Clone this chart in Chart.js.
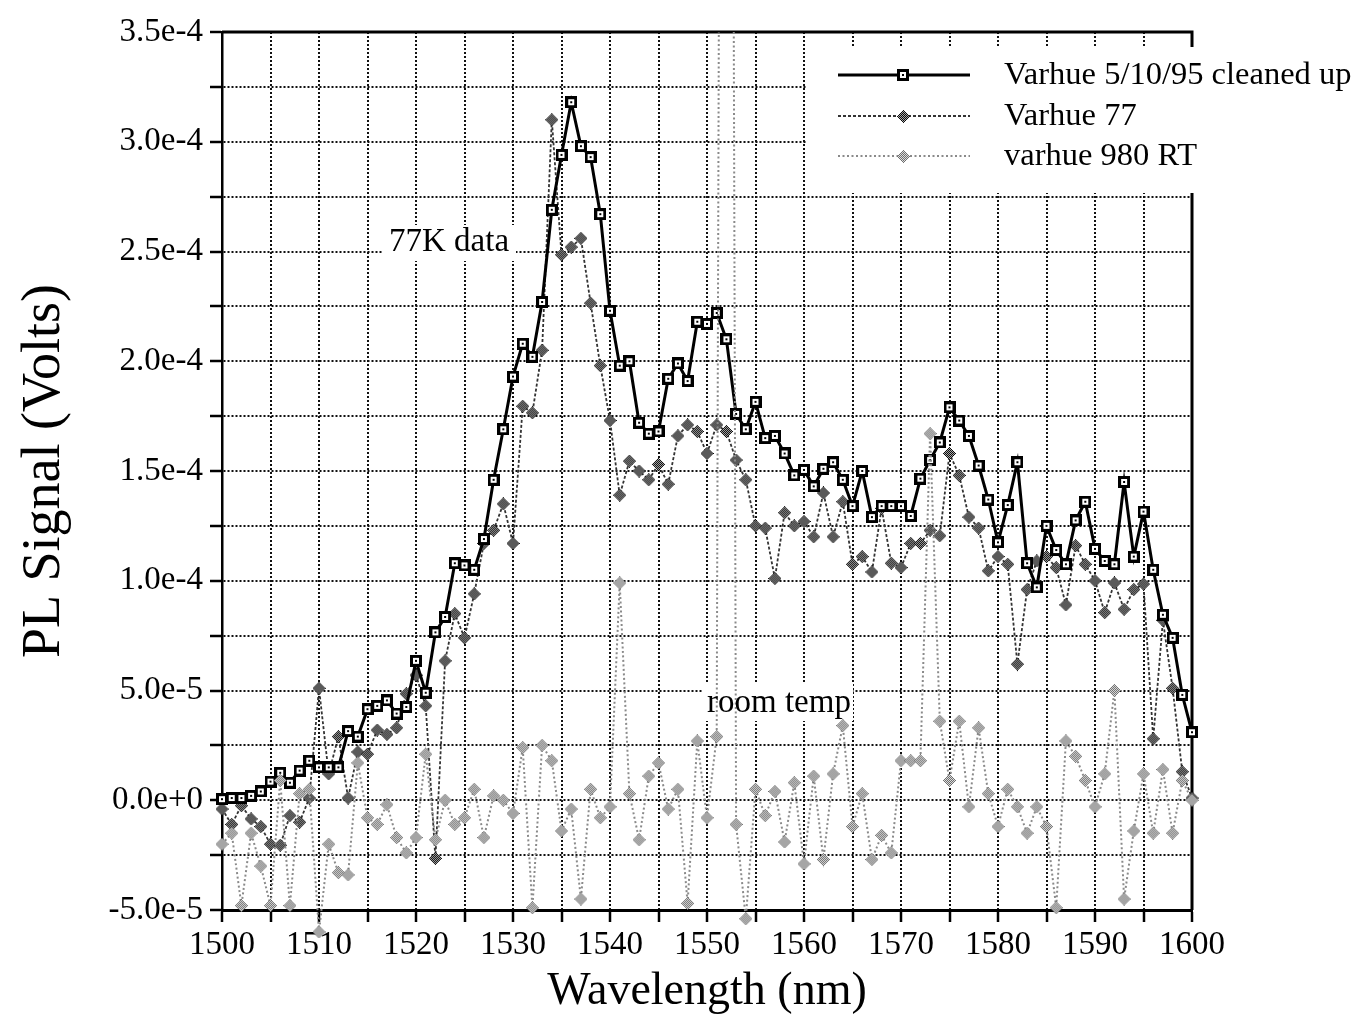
<!DOCTYPE html>
<html>
<head>
<meta charset="utf-8">
<title>PL Signal</title>
<script src="https://cdn.jsdelivr.net/npm/chart.js@4.4.1/dist/chart.umd.min.js"></script>
<style>
  html, body { margin: 0; padding: 0; background: #fff; }
  #plot { display: block; }
</style>
</head>
<body>
<canvas id="plot" width="1356" height="1017"></canvas>
<script>
// scan wavelengths (nm)
var wavelength = [
  1500, 1501, 1502, 1503, 1504, 1505, 1506, 1507, 1508, 1509,
  1510, 1511, 1512, 1513, 1514, 1515, 1516, 1517, 1518, 1519,
  1520, 1521, 1522, 1523, 1524, 1525, 1526, 1527, 1528, 1529,
  1530, 1531, 1532, 1533, 1534, 1535, 1536, 1537, 1538, 1539,
  1540, 1541, 1542, 1543, 1544, 1545, 1546, 1547, 1548, 1549,
  1550, 1551, 1552, 1553, 1554, 1555, 1556, 1557, 1558, 1559,
  1560, 1561, 1562, 1563, 1564, 1565, 1566, 1567, 1568, 1569,
  1570, 1571, 1572, 1573, 1574, 1575, 1576, 1577, 1578, 1579,
  1580, 1581, 1582, 1583, 1584, 1585, 1586, 1587, 1588, 1589,
  1590, 1591, 1592, 1593, 1594, 1595, 1596, 1597, 1598, 1599,
  1600
];

// PL signal, in units of 1e-5 V
var cleanedUp = [
  0.05, 0.1, 0.1, 0.2, 0.4, 0.85, 1.25, 0.8, 1.35, 1.8,
  1.5, 1.5, 1.5, 3.15, 2.9, 4.15, 4.3, 4.55, 3.95, 4.25,
  6.35, 4.9, 7.65, 8.35, 10.8, 10.7, 10.5, 11.9, 14.6, 16.9,
  19.3, 20.8, 20.2, 22.7, 26.9, 29.4, 31.8, 29.8, 29.3, 26.7,
  22.3, 19.8, 20.0, 17.2, 16.7, 16.8, 19.2, 19.9, 19.1, 21.8,
  21.7, 22.2, 21.0, 17.6, 16.9, 18.15, 16.5, 16.6, 15.8, 14.8,
  15.05, 14.3, 15.1, 15.4, 14.6, 13.4, 15.0, 12.9, 13.4, 13.4,
  13.4, 12.95, 14.65, 15.5, 16.3, 17.9, 17.3, 16.6, 15.25, 13.7,
  11.75, 13.45, 15.4, 10.8, 9.7, 12.5, 11.4, 10.75, 12.75, 13.6,
  11.45, 10.9, 10.75, 14.5, 11.1, 13.15, 10.5, 8.45, 7.4, 4.8,
  3.1
];

var varhue77 = [
  -0.4, -1.1, -0.25, -0.85, -1.2, -2.0, -2.05, -0.7, -1.0, 0.1,
  5.1, 1.2, 2.9, 0.1, 2.2, 2.1, 3.2, 3.0, 3.3, 4.85,
  5.7, 4.3, -2.65, 6.35, 8.5, 7.4, 9.4, 11.7, 12.3, 13.5,
  11.7, 17.95, 17.65, 20.5, 31.0, 24.85, 25.2, 25.6, 22.65, 19.8,
  17.3, 13.9, 15.45, 15.0, 14.6, 15.3, 14.4, 16.6, 17.1, 16.8,
  15.8, 17.1, 16.8, 15.5, 14.6, 12.5, 12.4, 10.1, 13.1, 12.5,
  12.7, 12.0, 14.0, 12.0, 13.6, 10.75, 11.1, 10.4, 13.3, 10.8,
  10.6, 11.7, 11.7, 12.3, 12.05, 15.8, 14.8, 12.9, 12.4, 10.45,
  11.1, 10.75, 6.2, 9.6, 10.9, 11.1, 10.6, 8.9, 11.6, 10.75,
  10.0, 8.55, 9.9, 8.7, 9.6, 9.85, 2.8, 8.2, 5.1, 1.3,
  0.1
];

var varhue980RT = [
  -2.0, -1.5, -4.8, -1.5, -3.0, -4.8, 0.9, -4.8, 0.3, 0.5,
  -6.0, -2.0, -3.3, -3.4, 1.7, -0.8, -1.1, -0.2, -1.7, -2.4,
  -1.7, 2.1, -1.8, 0.0, -1.1, -0.8, 0.5, -1.7, 0.2, 0.0,
  -0.6, 2.4, -4.9, 2.5, 1.8, -1.4, -0.4, -4.5, 0.5, -0.8,
  -0.3, 9.9, 0.3, -1.8, 1.1, 1.7, -0.4, 0.5, -4.7, 2.7,
  -0.8, 2.9, 150, -1.1, -5.4, 0.5, -0.7, 0.4, -1.9, 0.8,
  -2.9, 1.1, -2.7, 1.2, 3.4, -1.2, 0.3, -2.7, -1.6, -2.4,
  1.8, 1.8, 1.8, 16.7, 3.6, 0.9, 3.6, -0.3, 3.3, 0.3,
  -1.2, 0.5, -0.3, -1.5, -0.3, -1.2, -4.9, 2.7, 2.0, 0.9,
  -0.3, 1.2, 5.0, -4.5, -1.4, 1.2, -1.5, 1.4, -1.5, 0.9,
  0.0
];

var seriesNames = ['Varhue 5/10/95 cleaned up', 'Varhue 77', 'varhue 980 RT'];

var serif = '"Liberation Serif", "Times New Roman", Times, serif';

// little bitmap markers, the way the old plotting program drew them
function squareMarker() {
    var c = document.createElement('canvas');
    c.width = 12; c.height = 12;
    var g = c.getContext('2d');
    g.fillStyle = '#000';
    g.fillRect(0, 0, 12, 12);
    g.fillStyle = '#fff';
    g.fillRect(3, 3, 6, 6);
    g.fillStyle = '#000';
    g.fillRect(5, 5, 2, 2);
    return c;
}

function diamondMarker(dark, light) {
    var n = 13, mid = 6;
    var c = document.createElement('canvas');
    c.width = n; c.height = n;
    var g = c.getContext('2d');
    for (var i = 0; i < n; i++) {
        for (var j = 0; j < n; j++) {
            if (Math.abs(i - mid) + Math.abs(j - mid) <= mid) {
                g.fillStyle = (i + j) % 2 === 0 ? dark : light;
                g.fillRect(i, j, 1, 1);
            }
        }
    }
    return c;
}

function toPoints(values) {
    return values.map(function(v, i) { return {x: wavelength[i], y: v}; });
}

// white boxes, text labels, legend and the closed frame
var paperFrame = {
    id: 'paperFrame',
    beforeDatasetsDraw: function(chart) {
        var ctx = chart.ctx, a = chart.chartArea;
        ctx.save();
        ctx.strokeStyle = '#000';
        ctx.lineWidth = 3;
        ctx.beginPath();
        ctx.moveTo(a.left, a.top);
        ctx.lineTo(a.right, a.top);
        ctx.lineTo(a.right, a.bottom);
        ctx.stroke();

        ctx.fillStyle = '#fff';
        ctx.fillRect(806, 47, 390, 146);   // legend
        ctx.fillRect(383, 225, 133, 36);   // 77K data
        ctx.fillRect(703, 684, 150, 37);   // room temp
        ctx.restore();
    },
    afterDatasetsDraw: function(chart) {
        var ctx = chart.ctx;
        ctx.save();
        ctx.fillStyle = '#000';
        ctx.font = '33px ' + serif;
        ctx.textBaseline = 'middle';
        ctx.textAlign = 'left';
        ctx.fillText('77K data', 389, 242);
        ctx.fillText('room temp', 707, 703);

        ctx.font = '32.5px ' + serif;
        var rows = [75, 116, 156];
        chart.data.datasets.forEach(function(ds, i) {
            var y = rows[i];
            ctx.save();
            ctx.strokeStyle = ds.borderColor;
            ctx.lineWidth = ds.borderWidth;
            ctx.setLineDash(ds.borderDash || []);
            ctx.beginPath();
            ctx.moveTo(838, y);
            ctx.lineTo(970, y);
            ctx.stroke();
            ctx.restore();
            var m = ds.pointStyle;
            ctx.drawImage(m, Math.round(903 - m.width / 2), Math.round(y - m.height / 2));
            ctx.fillText(ds.label, 1004, y);
        });
        ctx.restore();
    }
};

var PLchart = new Chart(document.getElementById('plot').getContext('2d'), {
    type: 'line',
    data: {
        datasets: [
            {
                label: seriesNames[0],
                data: toPoints(cleanedUp),
                borderColor: '#000',
                borderWidth: 3,
                borderDash: [],
                pointStyle: squareMarker(),
                pointRadius: 6,
                pointHoverRadius: 6,
                tension: 0,
                order: 1,
                clip: {left: 10, top: 0, right: 10, bottom: 10}
            },
            {
                label: seriesNames[1],
                data: toPoints(varhue77),
                borderColor: '#333',
                borderWidth: 1.8,
                borderDash: [3, 2],
                pointStyle: diamondMarker('#0c0c0c', '#a8a8a8'),
                pointRadius: 6,
                pointHoverRadius: 6,
                tension: 0,
                order: 2,
                clip: {left: 10, top: 0, right: 10, bottom: 10}
            },
            {
                label: seriesNames[2],
                data: toPoints(varhue980RT),
                borderColor: '#8a8a8a',
                borderWidth: 2,
                borderDash: [2, 2.5],
                pointStyle: diamondMarker('#6e6e6e', '#dcdcdc'),
                pointRadius: 30,
                pointHoverRadius: 30,
                tension: 0,
                order: 0,
                clip: {left: 10, top: 0, right: 10, bottom: 40}
            }
        ]
    },
    options: {
        responsive: false,
        animation: false,
        layout: {padding: {left: 0, right: 164, top: 29, bottom: 0}},
        plugins: {
            legend: {display: false},
            tooltip: {enabled: false}
        },
        scales: {
            x: {
                type: 'linear',
                min: 1500,
                max: 1600,
                afterFit: function(scale) { scale.height = 107; },
                ticks: {
                    stepSize: 5,
                    autoSkip: false,
                    maxRotation: 0,
                    padding: 4,
                    color: '#000',
                    font: {family: serif, size: 33},
                    callback: function(v) { return v % 10 === 0 ? String(v) : ''; }
                },
                grid: {
                    color: '#111',
                    lineWidth: 2,
                    tickLength: 12,
                    tickWidth: 2.5,
                    tickColor: '#000',
                    tickBorderDash: []
                },
                border: {display: true, color: '#000', width: 3, dash: [2, 2]},
                title: {
                    display: true,
                    text: 'Wavelength (nm)',
                    color: '#000',
                    font: {family: serif, size: 46, lineHeight: 1.1},
                    padding: {top: 0, bottom: 0}
                }
            },
            y: {
                min: -5,
                max: 35,
                afterFit: function(scale) { scale.width = 222; },
                ticks: {
                    stepSize: 2.5,
                    autoSkip: false,
                    padding: 7,
                    color: '#000',
                    font: {family: serif, size: 33},
                    callback: function(v) { return v % 5 === 0 ? (v * 1e-5).toExponential(1) : ''; }
                },
                grid: {
                    color: '#111',
                    lineWidth: 2,
                    tickLength: 12,
                    tickWidth: 2.5,
                    tickColor: '#000',
                    tickBorderDash: []
                },
                border: {display: true, color: '#000', width: 2.5, dash: [2, 2]},
                title: {
                    display: true,
                    text: 'PL Signal (Volts)',
                    color: '#000',
                    font: {family: serif, size: 54, lineHeight: 1.1},
                    padding: {top: 15, bottom: 0}
                }
            }
        }
    },
    plugins: [paperFrame]
});
</script>
</body>
</html>
